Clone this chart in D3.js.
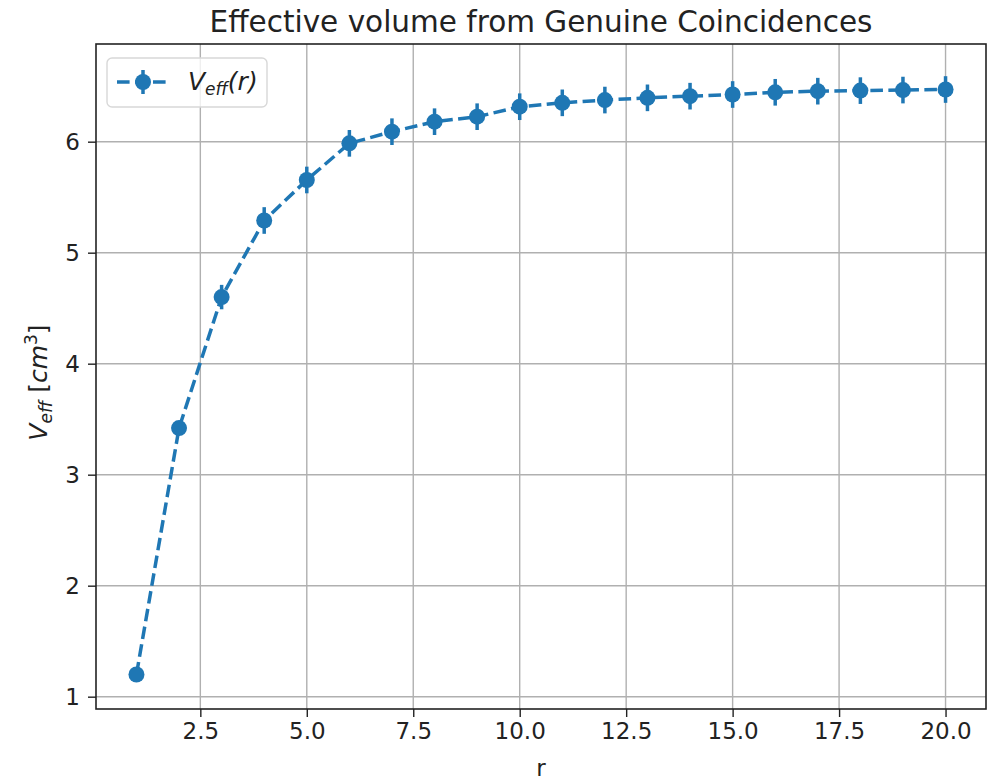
<!DOCTYPE html>
<html><head><meta charset="utf-8">
<script src="https://cdn.jsdelivr.net/npm/d3@7"></script>
<style>body{margin:0;background:#fff}svg{display:block}text{font-family:"DejaVu Sans",sans-serif;fill:#222}</style>
</head><body><svg id="c" width="997" height="783"></svg>
<script>
const rValues = [1,2,3,4,5,6,7,8,9,10,11,12,13,14,15,16,17,18,19,20];
const veffValues = [1.20,3.42,4.60,5.29,5.655,5.985,6.09,6.18,6.225,6.315,6.35,6.375,6.395,6.41,6.425,6.445,6.455,6.46,6.465,6.47];
const veffErrors = [0.04,0.06,0.11,0.12,0.12,0.12,0.12,0.12,0.12,0.12,0.12,0.12,0.12,0.12,0.12,0.12,0.12,0.12,0.12,0.12];
const xTicks = [2.5,5.0,7.5,10.0,12.5,15.0,17.5,20.0];
const yTicks = [1,2,3,4,5,6];

const L=96,R=986,T=44,B=709;
const color="#1f77b4";
const svg=d3.select("#c");
const x=d3.scaleLinear().domain([0.05,20.95]).range([L,R]);
const y=d3.scaleLinear().domain([0.889,6.88]).range([B,T]);

// grid
svg.append("g").selectAll("line").data(xTicks).join("line")
  .attr("x1",d=>x(d)).attr("x2",d=>x(d)).attr("y1",T).attr("y2",B)
  .attr("stroke","#b0b0b0").attr("stroke-width",1.4);
svg.append("g").selectAll("line").data(yTicks).join("line")
  .attr("y1",d=>y(d)).attr("y2",d=>y(d)).attr("x1",L).attr("x2",R)
  .attr("stroke","#b0b0b0").attr("stroke-width",1.4);

// axes
const xAxis=svg.append("g").attr("transform",`translate(0,${B})`)
  .call(d3.axisBottom(x).tickValues(xTicks).tickFormat(d3.format(".1f")).tickSize(8).tickPadding(6));
const yAxis=svg.append("g").attr("transform",`translate(${L},0)`)
  .call(d3.axisLeft(y).tickValues(yTicks).tickFormat(d3.format("d")).tickSize(8).tickPadding(8));
[xAxis,yAxis].forEach(a=>{a.select(".domain").remove();
  a.selectAll("line").attr("stroke","#222").attr("stroke-width",1.4);
  a.selectAll("text").attr("font-size",23).attr("font-family","DejaVu Sans").attr("fill","#222");});

// frame
svg.append("rect").attr("x",L).attr("y",T).attr("width",R-L).attr("height",B-T)
  .attr("fill","none").attr("stroke","#222").attr("stroke-width",1.6);

// line
const line=d3.line().x((d,i)=>x(rValues[i])).y(d=>y(d));
svg.append("path").datum(veffValues).attr("d",line).attr("fill","none")
  .attr("stroke",color).attr("stroke-width",3.5).attr("stroke-dasharray","12.6,5.4");
// error bars
svg.append("g").selectAll("line").data(veffValues).join("line")
  .attr("x1",(d,i)=>x(rValues[i])).attr("x2",(d,i)=>x(rValues[i]))
  .attr("y1",(d,i)=>y(d-veffErrors[i])).attr("y2",(d,i)=>y(d+veffErrors[i]))
  .attr("stroke",color).attr("stroke-width",3.5);
svg.append("g").selectAll("circle").data(veffValues).join("circle")
  .attr("cx",(d,i)=>x(rValues[i])).attr("cy",d=>y(d)).attr("r",8).attr("fill",color);

// title
svg.append("text").attr("x",(L+R)/2).attr("y",32).attr("text-anchor","middle")
  .attr("font-size",29.5).text("Effective volume from Genuine Coincidences");
// x label
svg.append("text").attr("x",(L+R)/2).attr("y",776).attr("text-anchor","middle")
  .attr("font-size",23).text("r");
// y label
const yl=svg.append("text").attr("transform",`translate(47,${(T+B)/2+6}) rotate(-90)`)
  .attr("text-anchor","middle").attr("font-size",25);
yl.append("tspan").attr("font-style","italic").text("V");
yl.append("tspan").attr("font-style","italic").attr("font-size",17).attr("dy",5).text("eff");
yl.append("tspan").attr("dy",-5).text(" [");
yl.append("tspan").attr("font-style","italic").text("cm");
yl.append("tspan").attr("font-size",17).attr("dy",-10).text("3");
yl.append("tspan").attr("dy",10).text("]");

// legend
const lg=svg.append("g");
lg.append("rect").attr("x",107).attr("y",58).attr("width",160).attr("height",49).attr("rx",5)
  .attr("fill","#fff").attr("fill-opacity",0.8).attr("stroke","#d8d8d8").attr("stroke-width",1.4);
lg.append("line").attr("x1",117).attr("x2",168).attr("y1",82).attr("y2",82)
  .attr("stroke",color).attr("stroke-width",3.5).attr("stroke-dasharray","12.6,5.4");
lg.append("line").attr("x1",143).attr("x2",143).attr("y1",70).attr("y2",94)
  .attr("stroke",color).attr("stroke-width",3.5);
lg.append("circle").attr("cx",143).attr("cy",82).attr("r",8).attr("fill",color);
const lt=lg.append("text").attr("x",188).attr("y",90).attr("font-size",25);
lt.append("tspan").attr("font-style","italic").text("V");
lt.append("tspan").attr("font-style","italic").attr("font-size",17).attr("dy",5).text("eff");
lt.append("tspan").attr("font-style","italic").attr("dy",-5).text("(r)");
</script></body></html>
